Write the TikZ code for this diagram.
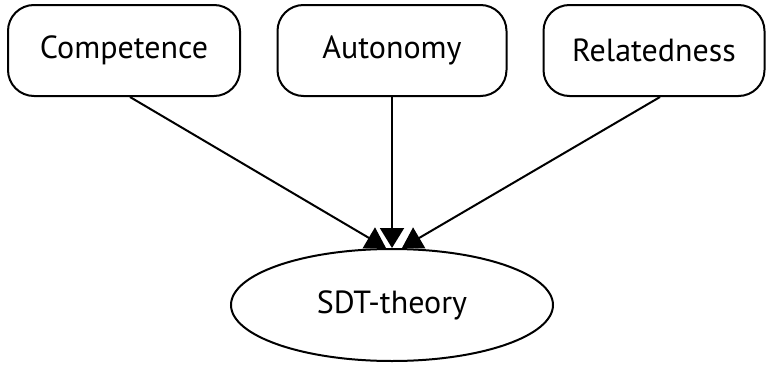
\documentclass[tikz,border=0pt]{standalone}
\usepackage{fontspec}
\setmainfont{PT Sans}
\usetikzlibrary{arrows.meta,shapes.geometric}
\begin{document}
\begin{tikzpicture}[x=1pt,y=1pt,
  box/.style={draw,line width=2pt,rounded corners=26pt,minimum height=91pt,inner sep=0pt,font=\fontsize{32}{36}\selectfont},
  ell/.style={draw,ellipse,line width=2pt,minimum width=322pt,minimum height=112pt,inner sep=0pt,font=\fontsize{32}{36}\selectfont},
  conn/.style={line width=2pt,-{Triangle[length=20pt,width=24pt]}}]
\useasboundingbox (0,0) rectangle (766,368);
\node[box,minimum width=232pt] (comp) at (124,317.5) {Competence};
\node[box,minimum width=229pt] (auto) at (392,317.5) {Autonomy};
\node[box,minimum width=221pt] (rel) at (654,317.5) {Relatedness};
\node[ell] (sdt) at (392,63) {SDT-theory};
\draw[conn] ([xshift=6pt]comp.south) -- ([xshift=-6pt]sdt.north);
\draw[conn] (auto.south) -- (sdt.north);
\draw[conn] ([xshift=6pt]rel.south) -- ([xshift=10pt]sdt.north);
\end{tikzpicture}
\end{document}
